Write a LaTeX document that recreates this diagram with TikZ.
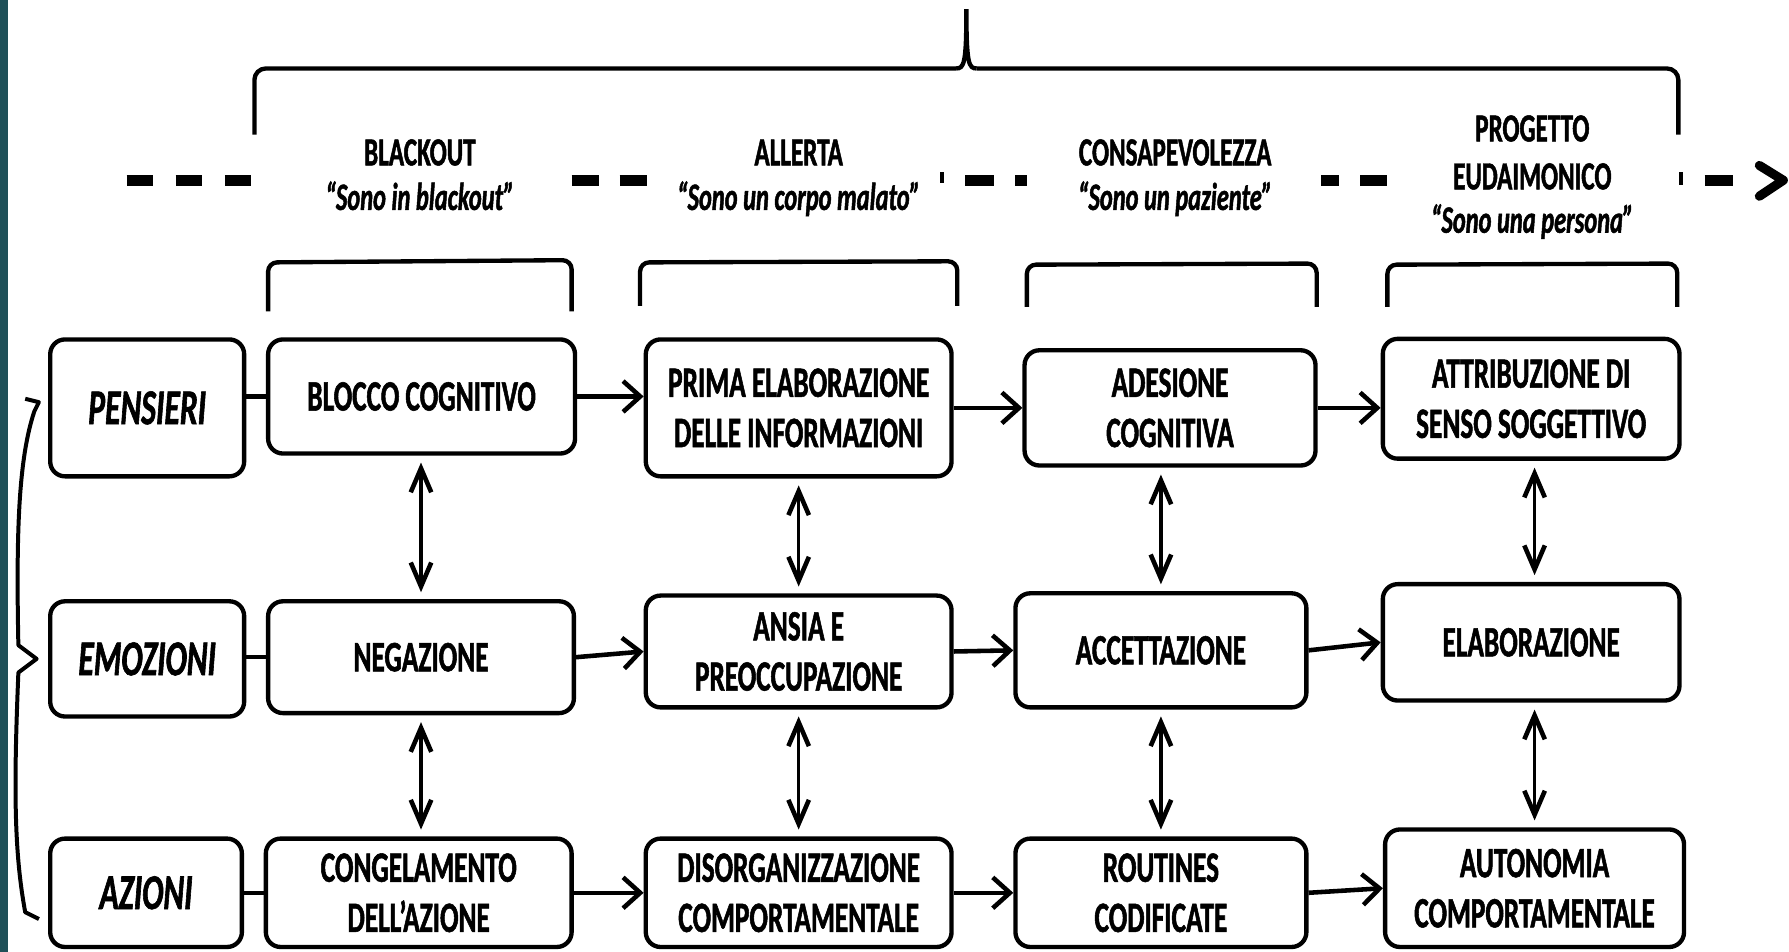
\documentclass[tikz,border=0pt]{standalone}
\usepackage{fontspec}
\setmainfont{Carlito}[FakeStretch=0.63, BoldFeatures={FakeBold=1.2}, BoldItalicFeatures={FakeBold=1.2}]
\usetikzlibrary{arrows.meta,calc}
\definecolor{sidebar}{RGB}{31,80,88}
\tikzset{
  stage/.style={draw, line width=3.8pt, rounded corners=13pt, align=center, inner sep=0pt,
    font=\fontsize{38}{44}\selectfont\bfseries},
  dimension/.style={stage, font=\fontsize{44}{50}\selectfont\bfseries\itshape},
  phase/.style={anchor=base, inner sep=0pt, font=\fontsize{35}{42}\selectfont\bfseries},
  motto/.style={anchor=base, inner sep=0pt, font=\fontsize{34}{40}\selectfont\bfseries\itshape},
  tie/.style={line width=3.8pt},
  flow/.style={line width=4pt, -{Straight Barb[length=15pt,width=27pt,line width=4pt]}},
  mutual/.style={line width=3pt,
    {Straight Barb[length=21pt,width=18pt,line width=4pt]}-{Straight Barb[length=21pt,width=18pt,line width=4pt]},
    shorten <=6pt, shorten >=6pt},
  bracket/.style={line width=3.8pt, rounded corners=8pt},
  timeline/.style={line width=9.5pt},
}
\begin{document}
\begin{tikzpicture}[x=1pt,y=-1pt]
  \useasboundingbox (0,0) rectangle (1568,834);
  \fill[white] (0,0) rectangle (1568,834);
  \fill[sidebar] (0,0) rectangle (7,834);

  % large brace over the four phases
  \draw[line width=3.8pt, rounded corners=10pt]
    (223,118) -- (223,60) -- (838,60);
  \draw[line width=3.8pt] (838,60) .. controls (845,60) and (847,56) .. (847,8)
    .. controls (847,56) and (849,60) .. (856,60);
  \draw[line width=3.8pt, rounded corners=10pt]
    (856,60) -- (1471,60) -- (1471,118);

  % timeline
  \draw[timeline, dash pattern=on 23pt off 20pt] (111,158) -- (222,158);
  \draw[timeline, dash pattern=on 24pt off 18pt] (501,158) -- (568,158);
  \draw[line width=3.5pt] (826,151) -- (826,160);
  \draw[timeline] (846,158) -- (871,158);
  \draw[timeline] (890,158) -- (900,158);
  \draw[timeline] (1158,158) -- (1174,158);
  \draw[timeline] (1192,158) -- (1216,158);
  \draw[line width=3.5pt] (1473,151) -- (1473,162);
  \draw[timeline] (1494,158) -- (1519,158);
  \draw[line width=8pt, line cap=round, line join=round] (1542,145) -- (1563,158) -- (1542,172);

  % phase titles
  \node[phase] (t1) at (368,145) {BLACKOUT};
  \node[motto] (q1) at (368,184) {“Sono in blackout”};
  \node[phase] (t2) at (700,145) {ALLERTA};
  \node[motto] (q2) at (700,184) {“Sono un corpo malato”};
  \node[phase] (t3) at (1030,145) {CONSAPEVOLEZZA};
  \node[motto] (q3) at (1030,184) {“Sono un paziente”};
  \node[phase] (t4a) at (1343,124) {PROGETTO};
  \node[phase] (t4b) at (1343,166) {EUDAIMONICO};
  \node[motto] (q4) at (1343,204) {“Sono una persona”};

  % brackets under the titles
  \draw[bracket] (235,273) -- (235,230) -- (501,228) -- (501,273);
  \draw[bracket] (561,268) -- (561,230) -- (839,229) -- (839,268);
  \draw[bracket] (900,269) -- (900,232) -- (1154,231) -- (1154,269);
  \draw[bracket] (1216,269) -- (1216,232) -- (1470,231) -- (1470,269);

  % dimensions
  \node[dimension, minimum width=170pt, minimum height=120pt] (pens) at (129,357.5) {PENSIERI};
  \node[dimension, minimum width=170pt, minimum height=101pt] (emoz) at (129,577.5) {EMOZIONI};
  \node[dimension, minimum width=168pt, minimum height=95pt] (azio) at (128,782.5) {AZIONI};

  % stages: thoughts
  \node[stage, minimum width=269pt, minimum height=100pt] (b11) at (369.5,347.5) {BLOCCO COGNITIVO};
  \node[stage, minimum width=268pt, minimum height=120pt] (b12) at (700,357.5) {PRIMA ELABORAZIONE\\DELLE INFORMAZIONI};
  \node[stage, minimum width=255pt, minimum height=101pt] (b13) at (1025.5,357.5) {ADESIONE\\COGNITIVA};
  \node[stage, minimum width=260pt, minimum height=105pt] (b14) at (1342,349.5) {ATTRIBUZIONE DI\\SENSO SOGGETTIVO};
  % stages: emotions
  \node[stage, minimum width=268pt, minimum height=98pt] (b21) at (369,576) {NEGAZIONE};
  \node[stage, minimum width=268pt, minimum height=98pt] (b22) at (700,571) {ANSIA E\\PREOCCUPAZIONE};
  \node[stage, minimum width=255pt, minimum height=100pt] (b23) at (1017.5,570) {ACCETTAZIONE};
  \node[stage, minimum width=260pt, minimum height=102pt] (b24) at (1342,563) {ELABORAZIONE};
  % stages: actions
  \node[stage, minimum width=268pt, minimum height=95pt] (b31) at (367,782.5) {CONGELAMENTO\\DELL’AZIONE};
  \node[stage, minimum width=268pt, minimum height=95pt] (b32) at (700,782.5) {DISORGANIZZAZIONE\\COMPORTAMENTALE};
  \node[stage, minimum width=255pt, minimum height=95pt] (b33) at (1017.5,782.5) {ROUTINES\\CODIFICATE};
  \node[stage, minimum width=262pt, minimum height=103pt] (b34) at (1345,778.5) {AUTONOMIA\\COMPORTAMENTALE};

  % dimension to first stage
  \draw[tie] (b11.west -| pens.east) -- (b11.west);
  \draw[tie] (b21.west -| emoz.east) -- (b21.west);
  \draw[tie] (b31.west -| azio.east) -- (b31.west);

  % progression along each row
  \draw[flow] (b11.east) -- (b11.east -| b12.west);
  \draw[flow] (b12.east) -- (b13.west);
  \draw[flow] (b13.east) -- (b13.east -| b14.west);
  \draw[flow] (b21.east) -- (b22.west);
  \draw[flow] (b22.east) -- (b23.west);
  \draw[flow] (b23.east) -- (b24.west);
  \draw[flow] (b31.east) -- (b32.west);
  \draw[flow] (b32.east) -- (b33.west);
  \draw[flow] (b33.east) -- (b34.west);

  % links between dimensions within a stage
  \draw[mutual] (b11.south -| b21.north) -- (b21.north);
  \draw[mutual] (b21.south) -- (b21.south |- b31.north);
  \draw[mutual] (b12.south) -- (b22.north);
  \draw[mutual] (b22.south) -- (b22.south |- b32.north);
  \draw[mutual] (b13.south -| b23.north) -- (b23.north);
  \draw[mutual] (b23.south) -- (b23.south |- b33.north);
  \draw[mutual] (b14.south -| b34.north) -- (b24.north -| b34.north);
  \draw[mutual] (b24.south -| b34.north) -- (b34.north);

  % brace joining the three dimensions
  \coordinate (bt) at ($(pens.west)+(-8,-5)$);
  \coordinate (bm) at ($(emoz.west)+(-10,0)$);
  \coordinate (bb) at ($(azio.west)+(-8,23)$);
  \draw[line width=3.5pt, line join=round]
    ($(bt)+(-12,-3)$) -- (bt) -- ($(bt)+(-4,8)$)
    .. controls ($(bt)+(-18,50)$) and ($(bm)+(-18,-110)$) .. ($(bm)+(-16,-12)$)
    -- (bm) -- ($(bm)+(-16,12)$)
    .. controls ($(bm)+(-20,110)$) and ($(bb)+(-22,-60)$) .. ($(bb)+(-12,-6)$)
    -- (bb);
\end{tikzpicture}
\end{document}
